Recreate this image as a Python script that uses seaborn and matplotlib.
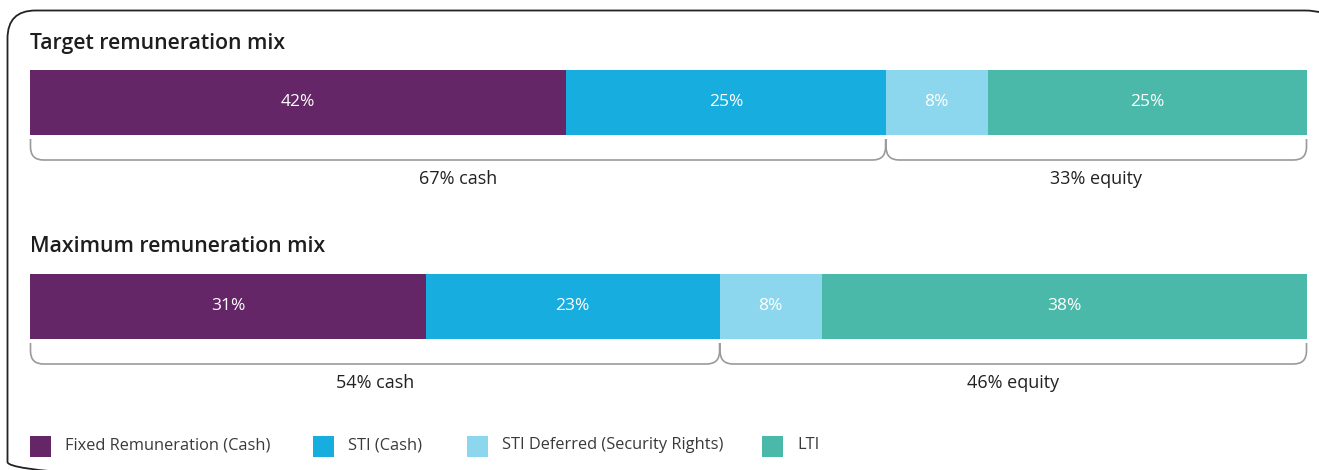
import numpy as np
import pandas as pd
import matplotlib
matplotlib.use("Agg")
import matplotlib.pyplot as plt
import seaborn as sns
from matplotlib.path import Path
from matplotlib.patches import PathPatch, Rectangle
from matplotlib.transforms import Affine2D

# ---- data ----
components = ["Fixed Remuneration (Cash)", "STI (Cash)", "STI Deferred (Security Rights)", "LTI"]
target_values = [42, 25, 8, 25]
maximum_values = [31, 23, 8, 38]
mix_titles = ["Target remuneration mix", "Maximum remuneration mix"]
target_groups = [("67% cash", 67), ("33% equity", 33)]
maximum_groups = [("54% cash", 54), ("46% equity", 46)]

colors = ["#642667", "#17AEDF", "#8DD7EE", "#4BB9A9"]

sns.set_theme(style="white")
plt.rcParams["font.family"] = ["Open Sans", "DejaVu Sans"]

W, H = 1319, 470
fig = plt.figure(figsize=(W / 100, H / 100), dpi=100)
fig.patch.set_facecolor("white")

# pixel (top-down) transform
ptrans = Affine2D().scale(1 / W, -1 / H).translate(0, 1) + fig.transFigure


def rounded_rect(x0, y0, x1, y1, rl, rr):
    verts = [(x0 + rl, y0), (x1 - rr, y0), (x1, y0), (x1, y0 + rr),
             (x1, y1 - rr), (x1, y1), (x1 - rr, y1),
             (x0 + rl, y1), (x0, y1), (x0, y1 - rl),
             (x0, y0 + rl), (x0, y0), (x0 + rl, y0)]
    codes = [Path.MOVETO, Path.LINETO, Path.CURVE3, Path.CURVE3,
             Path.LINETO, Path.CURVE3, Path.CURVE3,
             Path.LINETO, Path.CURVE3, Path.CURVE3,
             Path.LINETO, Path.CURVE3, Path.CURVE3]
    return Path(verts, codes)


fig.patches.append(PathPatch(rounded_rect(7.5, 10.5, 1345, 490, 28, 40), transform=ptrans,
                             fill=False, edgecolor="#222222", linewidth=1.3))


def to_px(ax, v):
    disp = ax.transData.transform((v, 0))
    fx = fig.transFigure.inverted().transform(disp)[0]
    return fx * W


def bracket(x0, x1, top, bot, r=13):
    verts = [(x0, top), (x0, bot - r), (x0, bot), (x0 + r, bot),
             (x1 - r, bot), (x1, bot), (x1, bot - r), (x1, top)]
    codes = [Path.MOVETO, Path.LINETO, Path.CURVE3, Path.CURVE3,
             Path.LINETO, Path.CURVE3, Path.CURVE3, Path.LINETO]
    fig.patches.append(PathPatch(Path(verts, codes), transform=ptrans,
                                 fill=False, edgecolor="#9a9a9a", linewidth=1.2))


def draw_mix(values, groups, title, bar_top, title_y):
    bar_h = 65
    ax = fig.add_axes([30 / W, 1 - (bar_top + bar_h) / H, 1277 / W, bar_h / H])
    cum = np.cumsum(values)
    for i in reversed(range(len(values))):
        df = pd.DataFrame({"value": [cum[i]], "mix": [title]})
        sns.barplot(data=df, x="value", y="mix", color=colors[i], width=1.0,
                    linewidth=0, errorbar=None, orient="h", ax=ax, saturation=1)
    ax.set_xlim(0, 100)
    ax.set_ylim(0.5, -0.5)
    ax.axis("off")
    left = 0
    for v in values:
        ax.text(left + v / 2, 0.0, f"{v}%", ha="center", va="center",
                color="white", fontsize=12.5)
        left += v
    fig.text(30 / W, 1 - (title_y + 1) / H, title, ha="left", va="center",
             fontsize=15.3, fontweight="semibold", color="#1e1e1e")
    start = 0
    for label, g in groups:
        x0 = to_px(ax, start)
        x1 = to_px(ax, start + g)
        bracket(x0 + 0.5, x1 - 0.5 if start + g >= 100 else x1,
                bar_top + bar_h + 4, bar_top + bar_h + 25)
        fig.text(((x0 + x1) / 2) / W, 1 - (bar_top + bar_h + 44) / H, label,
                 ha="center", va="center", fontsize=13, color="#222222")
        start += g


draw_mix(target_values, target_groups, mix_titles[0], 70, 42)
draw_mix(maximum_values, maximum_groups, mix_titles[1], 274, 245)

# legend
legend_x = [30, 313, 467, 762]
for x, c, name in zip(legend_x, colors, components):
    fig.patches.append(Rectangle((x, 436), 21, 21, transform=ptrans,
                                 facecolor=c, edgecolor="none"))
    fig.text((x + 35) / W, 1 - 445 / H, name, ha="left", va="center",
             fontsize=11.8, color="#3a3a3a")

fig.savefig("out.png", dpi=100)
